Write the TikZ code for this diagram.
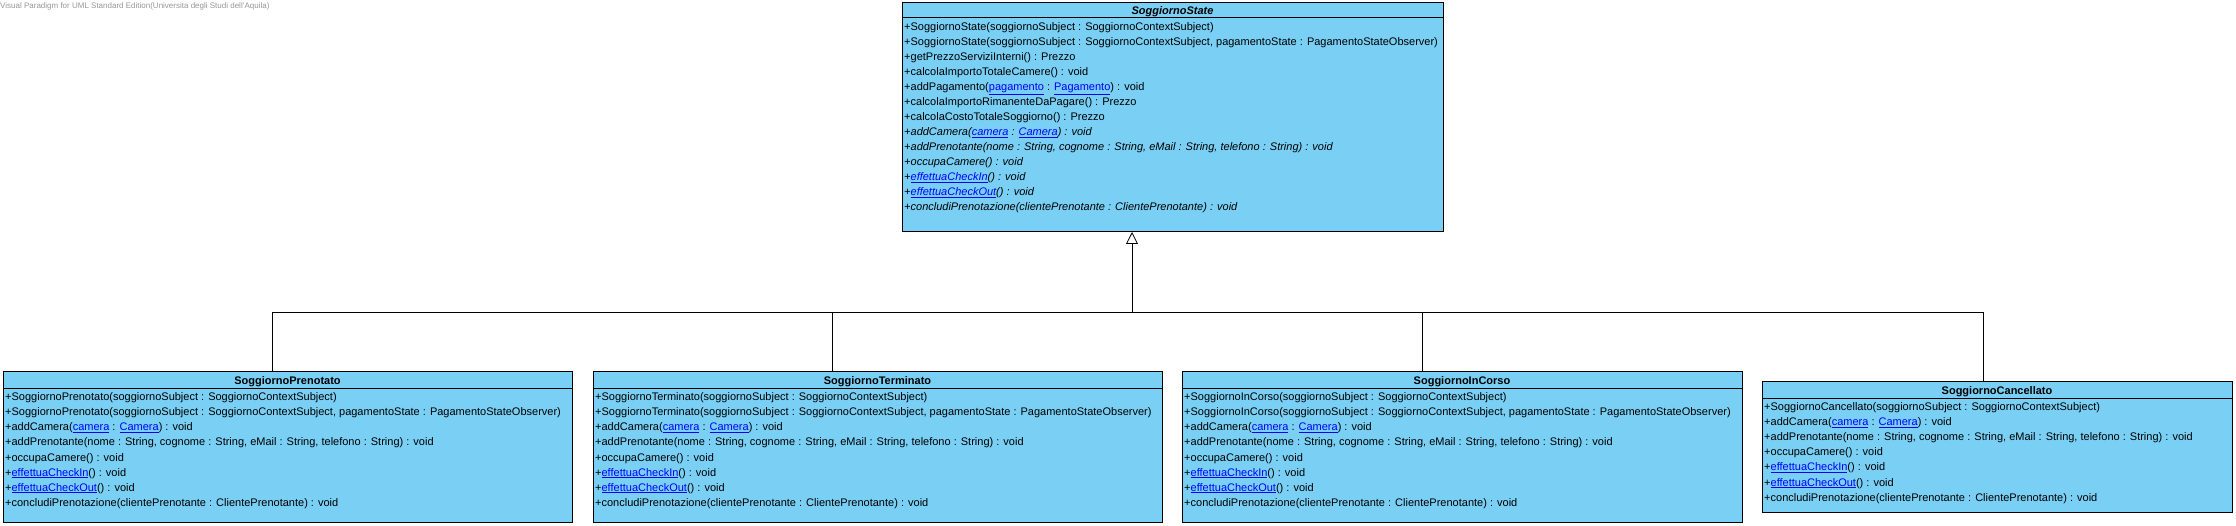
\documentclass[tikz,border=0pt]{standalone}
\usepackage{fontspec}
\setmainfont{Liberation Sans}
\usetikzlibrary{arrows.meta}
\definecolor{classfill}{RGB}{122,207,245}
\definecolor{linkblue}{RGB}{0,0,255}
\definecolor{wmgray}{RGB}{150,150,150}
\newcommand\lk[1]{\textcolor{linkblue}{\underline{#1}}}
\begin{document}
\begin{tikzpicture}[x=1pt,y=-1pt,
  classbox/.style={draw=black, line width=1pt, fill=classfill, anchor=north west, inner sep=0pt, outer sep=0pt},
  hdr/.style={draw=black, line width=0.8pt},
  mrow/.style={anchor=base west, inner sep=0pt, font=\fontsize{11}{13}\selectfont},
  arow/.style={mrow, font=\fontsize{11}{13}\selectfont\itshape},
  ctitle/.style={anchor=base, inner sep=0pt, font=\fontsize{11}{13}\selectfont\bfseries},
  conn/.style={draw=black, line width=0.8pt},
  genarrow/.style={conn, -{Triangle[open, length=12pt, width=12pt, line width=0.8pt]}}]
\useasboundingbox (0,0) rectangle (2236,526);
\node[anchor=base west, inner sep=0pt, text=wmgray, font=\fontsize{8}{10}\selectfont] (wm) at (0,9) {Visual Paradigm for UML Standard Edition(Universita degli Studi dell'Aquila)};

% ---------- SoggiornoState ----------
\node[classbox, minimum width=541pt, minimum height=229pt] (state) at (902,3) {};
\draw[hdr] ([yshift=-14pt]state.north west) -- ([yshift=-14pt]state.north east);
\node[ctitle, font=\fontsize{11}{13}\selectfont\bfseries\itshape] (state-t) at (1172.5,14.5) {SoggiornoState};
\node[mrow] (s1) at (904,31) {+SoggiornoState(soggiornoSubject : SoggiornoContextSubject)};
\node[mrow] (s2) at (904,46) {+SoggiornoState(soggiornoSubject : SoggiornoContextSubject, pagamentoState : PagamentoStateObserver)};
\node[mrow] (s3) at (904,61) {+getPrezzoServiziInterni() : Prezzo};
\node[mrow] (s4) at (904,76) {+calcolaImportoTotaleCamere() : void};
\node[mrow] (s5) at (904,91) {+addPagamento(\lk{pagamento} : \lk{Pagamento}) : void};
\node[mrow] (s6) at (904,106) {+calcolaImportoRimanenteDaPagare() : Prezzo};
\node[mrow] (s7) at (904,121) {+calcolaCostoTotaleSoggiorno() : Prezzo};
\node[arow] (s8) at (904,136) {+addCamera(\lk{camera} : \lk{Camera}) : void};
\node[arow] (s9) at (904,151) {+addPrenotante(nome : String, cognome : String, eMail : String, telefono : String) : void};
\node[arow] (s10) at (904,166) {+occupaCamere() : void};
\node[arow] (s11) at (904,181) {+\lk{effettuaCheckIn}() : void};
\node[arow] (s12) at (904,196) {+\lk{effettuaCheckOut}() : void};
\node[arow] (s13) at (904,211) {+concludiPrenotazione(clientePrenotante : ClientePrenotante) : void};

% ---------- SoggiornoPrenotato ----------
\node[classbox, minimum width=569pt, minimum height=150pt] (pren) at (3,372) {};
\draw[hdr] ([yshift=-16pt]pren.north west) -- ([yshift=-16pt]pren.north east);
\node[ctitle] (pren-t) at (287.5,385) {SoggiornoPrenotato};
\node[mrow] (p1) at (5,401) {+SoggiornoPrenotato(soggiornoSubject : SoggiornoContextSubject)};
\node[mrow] (p2) at (5,416) {+SoggiornoPrenotato(soggiornoSubject : SoggiornoContextSubject, pagamentoState : PagamentoStateObserver)};
\node[mrow] (p3) at (5,431) {+addCamera(\lk{camera} : \lk{Camera}) : void};
\node[mrow] (p4) at (5,446) {+addPrenotante(nome : String, cognome : String, eMail : String, telefono : String) : void};
\node[mrow] (p5) at (5,461) {+occupaCamere() : void};
\node[mrow] (p6) at (5,476) {+\lk{effettuaCheckIn}() : void};
\node[mrow] (p7) at (5,491) {+\lk{effettuaCheckOut}() : void};
\node[mrow] (p8) at (5,506) {+concludiPrenotazione(clientePrenotante : ClientePrenotante) : void};

% ---------- SoggiornoTerminato ----------
\node[classbox, minimum width=569pt, minimum height=150pt] (term) at (593,372) {};
\draw[hdr] ([yshift=-16pt]term.north west) -- ([yshift=-16pt]term.north east);
\node[ctitle] (term-t) at (877.5,385) {SoggiornoTerminato};
\node[mrow] (t1) at (595,401) {+SoggiornoTerminato(soggiornoSubject : SoggiornoContextSubject)};
\node[mrow] (t2) at (595,416) {+SoggiornoTerminato(soggiornoSubject : SoggiornoContextSubject, pagamentoState : PagamentoStateObserver)};
\node[mrow] (t3) at (595,431) {+addCamera(\lk{camera} : \lk{Camera}) : void};
\node[mrow] (t4) at (595,446) {+addPrenotante(nome : String, cognome : String, eMail : String, telefono : String) : void};
\node[mrow] (t5) at (595,461) {+occupaCamere() : void};
\node[mrow] (t6) at (595,476) {+\lk{effettuaCheckIn}() : void};
\node[mrow] (t7) at (595,491) {+\lk{effettuaCheckOut}() : void};
\node[mrow] (t8) at (595,506) {+concludiPrenotazione(clientePrenotante : ClientePrenotante) : void};

% ---------- SoggiornoInCorso ----------
\node[classbox, minimum width=560pt, minimum height=150pt] (inc) at (1182,372) {};
\draw[hdr] ([yshift=-16pt]inc.north west) -- ([yshift=-16pt]inc.north east);
\node[ctitle] (inc-t) at (1462,385) {SoggiornoInCorso};
\node[mrow] (i1) at (1184,401) {+SoggiornoInCorso(soggiornoSubject : SoggiornoContextSubject)};
\node[mrow] (i2) at (1184,416) {+SoggiornoInCorso(soggiornoSubject : SoggiornoContextSubject, pagamentoState : PagamentoStateObserver)};
\node[mrow] (i3) at (1184,431) {+addCamera(\lk{camera} : \lk{Camera}) : void};
\node[mrow] (i4) at (1184,446) {+addPrenotante(nome : String, cognome : String, eMail : String, telefono : String) : void};
\node[mrow] (i5) at (1184,461) {+occupaCamere() : void};
\node[mrow] (i6) at (1184,476) {+\lk{effettuaCheckIn}() : void};
\node[mrow] (i7) at (1184,491) {+\lk{effettuaCheckOut}() : void};
\node[mrow] (i8) at (1184,506) {+concludiPrenotazione(clientePrenotante : ClientePrenotante) : void};

% ---------- SoggiornoCancellato ----------
\node[classbox, minimum width=470pt, minimum height=130pt] (canc) at (1762,382) {};
\draw[hdr] ([yshift=-16pt]canc.north west) -- ([yshift=-16pt]canc.north east);
\node[ctitle] (canc-t) at (1997,395) {SoggiornoCancellato};
\node[mrow] (c1) at (1764,411) {+SoggiornoCancellato(soggiornoSubject : SoggiornoContextSubject)};
\node[mrow] (c2) at (1764,426) {+addCamera(\lk{camera} : \lk{Camera}) : void};
\node[mrow] (c3) at (1764,441) {+addPrenotante(nome : String, cognome : String, eMail : String, telefono : String) : void};
\node[mrow] (c4) at (1764,456) {+occupaCamere() : void};
\node[mrow] (c5) at (1764,471) {+\lk{effettuaCheckIn}() : void};
\node[mrow] (c6) at (1764,486) {+\lk{effettuaCheckOut}() : void};
\node[mrow] (c7) at (1764,501) {+concludiPrenotazione(clientePrenotante : ClientePrenotante) : void};

% ---------- generalization ----------
\coordinate (j) at (1132,312);
\draw[conn] ([xshift=269pt]pren.north west) |- (j);
\draw[conn] ([xshift=239pt]term.north west) |- (j);
\draw[conn] ([xshift=240pt]inc.north west) |- (j);
\draw[conn] ([xshift=221pt]canc.north west) |- (j);
\draw[genarrow] (j) -- (j |- state.south);
\end{tikzpicture}
\end{document}
